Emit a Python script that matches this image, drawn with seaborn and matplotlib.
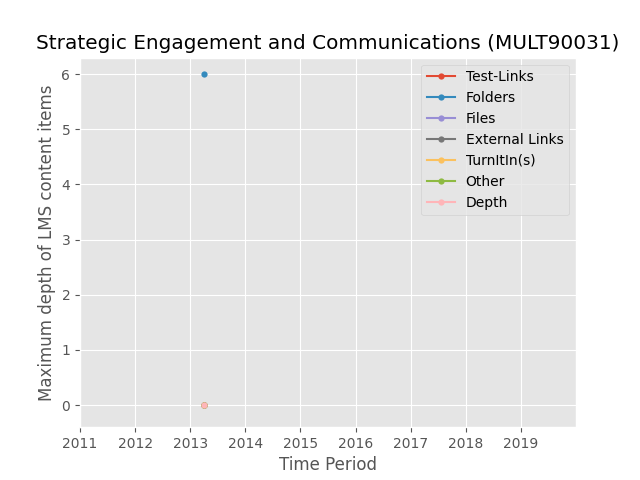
import numpy as np
import pandas as pd
import seaborn as sns
import matplotlib
matplotlib.use("Agg")
import matplotlib.pyplot as plt

# values: one time point, one value per content type
series = ["Test-Links", "Folders", "Files", "External Links", "TurnItIn(s)", "Other", "Depth"]
period = [2013.25]
values = {
    "Test-Links": [0],
    "Folders": [6],
    "Files": [0],
    "External Links": [0],
    "TurnItIn(s)": [0],
    "Other": [0],
    "Depth": [0],
}
years = list(range(2011, 2020))

plt.style.use("ggplot")
colors = ["#E24A33", "#348ABD", "#988ED5", "#777777", "#FBC15E", "#8EBA42", "#FFB5B8"]

rows = []
for s in series:
    for t, v in zip(period, values[s]):
        rows.append({"period": t, "value": v, "series": s})
df = pd.DataFrame(rows)

fig, ax = plt.subplots(figsize=(6.4, 4.8), dpi=100)
sns.lineplot(data=df, x="period", y="value", hue="series", hue_order=series,
             palette=colors, marker="o", markersize=4.5, markeredgewidth=0,
             ax=ax)

ax.set_xlim(2011, 2020)
ax.set_xticks(years)
ax.set_xticklabels([str(y) for y in years])
ax.set_ylim(-0.4, 6.3)
ax.set_title("Strategic Engagement and Communications (MULT90031)")
ax.set_xlabel("Time Period")
ax.set_ylabel("Maximum depth of LMS content items")

handles, labels = ax.get_legend_handles_labels()
ax.legend(handles, labels, loc="upper right")

plt.savefig("out.png", dpi=100)
